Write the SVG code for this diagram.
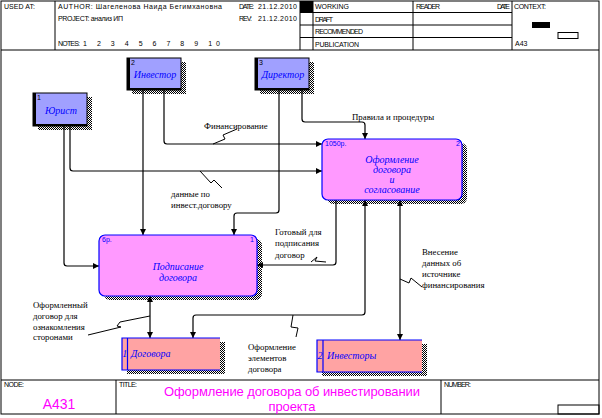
<svg xmlns="http://www.w3.org/2000/svg" width="602" height="418" viewBox="0 0 602 418">
<defs>
<style>
.fr{fill:none;stroke:#000;stroke-width:1}
.hd{font-family:"Liberation Sans",Arial,sans-serif;font-size:7px;fill:#000}
.lb{font-family:"Liberation Serif","Times New Roman",serif;font-size:8.8px;fill:#000}
.nm{font-family:"Liberation Sans",Arial,sans-serif;font-size:7px}
.nd{font-family:"Liberation Serif","Times New Roman",serif;font-style:italic;font-size:10px;fill:#0000ff}
.ent{fill:#a0a0ff;stroke:#000;stroke-width:1}
.act{fill:#ff99ff;stroke:#0000ff;stroke-width:1.2}
.st{fill:#ffa3a3}
.stl{fill:none;stroke:#0000ff;stroke-width:1.2}
.sh{fill:url(#dots)}
.cn{fill:none;stroke:#000;stroke-width:1.2}
.sq{fill:none;stroke:#000;stroke-width:1}
.ft{font-family:"Liberation Sans",Arial,sans-serif;fill:#ff00ff}
</style>
<pattern id="dots" width="2" height="2" patternUnits="userSpaceOnUse"><rect width="1" height="1" fill="#000"/><rect x="1" y="1" width="1" height="1" fill="#000"/></pattern>
<marker id="ah" viewBox="0 0 6 6" refX="6" refY="3" markerWidth="6" markerHeight="6" markerUnits="userSpaceOnUse" orient="auto-start-reverse"><path d="M0,0 L6,3 L0,6 z" fill="#000"/></marker>
</defs>
<rect width="602" height="418" fill="#fff"/>

<g id="frame">
<rect class="fr" x="1" y="1" width="598" height="413"/>
<line class="fr" x1="1" y1="50" x2="599" y2="50"/>
<line class="fr" x1="1" y1="380" x2="599" y2="380"/>
<line class="fr" x1="55" y1="1" x2="55" y2="50"/>
<line class="fr" x1="300" y1="1" x2="300" y2="50"/>
<line class="fr" x1="313" y1="1" x2="313" y2="50"/>
<line class="fr" x1="413" y1="1" x2="413" y2="50"/>
<line class="fr" x1="512" y1="1" x2="512" y2="50"/>
<line class="fr" x1="300" y1="12.5" x2="512" y2="12.5"/>
<line class="fr" x1="300" y1="25" x2="512" y2="25"/>
<line class="fr" x1="300" y1="37.5" x2="512" y2="37.5"/>
<rect x="300" y="1" width="13" height="11.5" fill="#000"/>
<rect x="532" y="22" width="18" height="6" fill="#000"/>
<rect class="fr" x="558" y="32.5" width="20" height="6"/>
<line class="fr" x1="116" y1="380" x2="116" y2="414"/>
<line class="fr" x1="441" y1="380" x2="441" y2="414"/>
<rect class="fr" x="558" y="405" width="41" height="9"/>
<text class="hd" x="4" y="9" textLength="31" lengthAdjust="spacing">USED AT:</text>
<text class="hd" x="58" y="9" textLength="164" lengthAdjust="spacing">AUTHOR: Шагеленова Наида Бегимхановна</text>
<text class="hd" x="239" y="9" textLength="15" lengthAdjust="spacing">DATE:</text>
<text class="hd" x="258" y="9" textLength="39" lengthAdjust="spacing">21.12.2010</text>
<text class="hd" x="58" y="21" textLength="65" lengthAdjust="spacing">PROJECT: анализ ИП</text>
<text class="hd" x="239" y="21" textLength="13" lengthAdjust="spacing">REV:</text>
<text class="hd" x="258" y="21" textLength="39" lengthAdjust="spacing">21.12.2010</text>
<text class="hd" x="58" y="46" textLength="22" lengthAdjust="spacing">NOTES:</text>
<text class="hd" x="83" y="46" textLength="137" lengthAdjust="spacing">1  2  3  4  5  6  7  8  9  10</text>
<text class="hd" x="315" y="9" textLength="34" lengthAdjust="spacing">WORKING</text>
<text class="hd" x="315" y="21.5" textLength="18" lengthAdjust="spacing">DRAFT</text>
<text class="hd" x="315" y="34" textLength="48" lengthAdjust="spacing">RECOMMENDED</text>
<text class="hd" x="315" y="46.5" textLength="44" lengthAdjust="spacing">PUBLICATION</text>
<text class="hd" x="416" y="9" textLength="24" lengthAdjust="spacing">READER</text>
<text class="hd" x="497" y="9" textLength="13" lengthAdjust="spacing">DATE</text>
<text class="hd" x="514" y="9" textLength="32" lengthAdjust="spacing">CONTEXT:</text>
<text class="hd" x="515" y="46">A43</text>
<text class="hd" x="4" y="387" textLength="20" lengthAdjust="spacing">NODE:</text>
<text class="hd" x="119" y="387" textLength="18" lengthAdjust="spacing">TITLE:</text>
<text class="hd" x="444" y="387" textLength="27" lengthAdjust="spacing">NUMBER:</text>
<text class="ft" x="59" y="409" font-size="14" text-anchor="middle">A431</text>
<text class="ft" x="292" y="396" font-size="13" text-anchor="middle" textLength="256" lengthAdjust="spacing">Оформление договора об инвестировании</text>
<text class="ft" x="292" y="411" font-size="13" text-anchor="middle" textLength="47" lengthAdjust="spacing">проекта</text>
</g>

<g id="connectors">
<path class="cn" d="M64,126 V263 Q64,266 67,266 H99" marker-end="url(#ah)"/>
<path class="cn" d="M70,126 V168 Q70,171 73,171 H322" marker-end="url(#ah)"/>
<path class="cn" d="M143,90 V235" marker-end="url(#ah)"/>
<path class="cn" d="M164,90 V141 Q164,144 167,144 H322" marker-end="url(#ah)"/>
<path class="cn" d="M302,90 V119 Q302,122 305,122 H362 Q365,122 365,125 V139" marker-end="url(#ah)"/>
<path class="cn" d="M279,90 V210 Q279,213 276,213 H237 Q234,213 234,216 V235" marker-end="url(#ah)"/>
<path class="cn" d="M336,200 V262 Q336,265 333,265 H257" marker-end="url(#ah)"/>
<path class="cn" d="M150,296 V338" marker-start="url(#ah)" marker-end="url(#ah)"/>
<path class="cn" d="M193,338 V318 Q193,315 196,315 H362 Q365,315 365,312 V200" marker-start="url(#ah)" marker-end="url(#ah)"/>
<path class="cn" d="M400,200 V340" marker-start="url(#ah)" marker-end="url(#ah)"/>
<polyline class="sq" points="213,144 225,139 223,135 237,129"/>
<polyline class="sq" points="200,171 211,183 214,180 222,188"/>
<polyline class="sq" points="311,262 317,257 315,261 326,262"/>
<polyline class="sq" points="293,315 291,327 298,328 296,337"/>
<polyline class="sq" points="400,279 409,283 411,278 422,287"/>
<polyline class="sq" points="150,316 120,322 117,326 121,327 88,335"/>
<text class="lb" x="204" y="129">Финансирование</text>
<text class="lb" x="352" y="120">Правила и процедуры</text>
<text class="lb" x="171" y="197">данные по</text>
<text class="lb" x="171" y="208">инвест.договору</text>
<text class="lb" x="275" y="235">Готовый для</text>
<text class="lb" x="275" y="246">подписания</text>
<text class="lb" x="275" y="258">договор</text>
<text class="lb" x="422" y="255">Внесение</text>
<text class="lb" x="422" y="266">данных об</text>
<text class="lb" x="422" y="277">источнике</text>
<text class="lb" x="422" y="288">финансирования</text>
<text class="lb" x="33" y="308">Оформленный</text>
<text class="lb" x="33" y="319">договор для</text>
<text class="lb" x="33" y="330">ознакомления</text>
<text class="lb" x="33" y="340">сторонами</text>
<text class="lb" x="248" y="350">Оформление</text>
<text class="lb" x="248" y="361">элементов</text>
<text class="lb" x="248" y="372">договора</text>
</g>

<g id="ent1">
<rect class="sh" x="38" y="97" width="54" height="33"/>
<rect class="ent" x="33" y="93" width="54" height="33"/>
<rect x="33" y="93" width="3" height="33" fill="#000"/>
<rect x="33" y="124" width="54" height="2" fill="#000"/>
<text class="nm" x="37" y="100">1</text>
<text class="nd" x="61" y="113.5" text-anchor="middle" font-size="10.5">Юрист</text>
</g>
<g id="ent2">
<rect class="sh" x="132" y="62" width="54" height="32"/>
<rect class="ent" x="127" y="58" width="54" height="32"/>
<rect x="127" y="58" width="3" height="32" fill="#000"/>
<rect x="127" y="88" width="54" height="2" fill="#000"/>
<text class="nm" x="131" y="65">2</text>
<text class="nd" x="155" y="78" text-anchor="middle" font-size="10.5">Инвестор</text>
</g>
<g id="ent3">
<rect class="sh" x="260" y="62" width="54" height="32"/>
<rect class="ent" x="255" y="58" width="54" height="32"/>
<rect x="255" y="58" width="3" height="32" fill="#000"/>
<rect x="255" y="88" width="54" height="2" fill="#000"/>
<text class="nm" x="259" y="65">3</text>
<text class="nd" x="283" y="78" text-anchor="middle" font-size="10.5">Директор</text>
</g>

<g id="act2">
<rect class="sh" x="327" y="143" width="140" height="61" rx="6"/>
<rect class="act" x="322" y="139" width="140" height="61" rx="6"/>
<text class="nm" x="325" y="146" fill="#0000ff">1050р.</text>
<text class="nm" x="458" y="146" fill="#0000ff" text-anchor="middle">2</text>
<text class="nd" x="392" y="163" text-anchor="middle">Оформление</text>
<text class="nd" x="392" y="173" text-anchor="middle">договора</text>
<text class="nd" x="392" y="183" text-anchor="middle">и</text>
<text class="nd" x="392" y="193" text-anchor="middle">согласование</text>
</g>
<g id="act1">
<rect class="sh" x="104" y="239" width="158" height="61" rx="6"/>
<rect class="act" x="99" y="235" width="158" height="61" rx="6"/>
<text class="nm" x="102" y="242" fill="#0000ff">6р.</text>
<text class="nm" x="252" y="242" fill="#0000ff" text-anchor="middle">1</text>
<text class="nd" x="178" y="270" text-anchor="middle">Подписание</text>
<text class="nd" x="178" y="281" text-anchor="middle">договора</text>
</g>

<g id="store1">
<rect class="sh" x="127" y="342" width="98" height="32"/>
<rect class="st" x="122" y="338" width="98" height="32"/>
<path class="stl" d="M220,338 H122 V370 H220 M127.5,338 V370"/>
<text class="nd" x="124.7" y="357" text-anchor="middle" font-size="9">1</text>
<text class="nd" x="131" y="357" font-size="9.5">Договора</text>
</g>
<g id="store2">
<rect class="sh" x="322" y="344" width="105" height="32"/>
<rect class="st" x="317" y="340" width="105" height="32"/>
<path class="stl" d="M422,340 H317 V372 H422 M323,340 V372"/>
<text class="nd" x="320" y="359" text-anchor="middle" font-size="9">2</text>
<text class="nd" x="327" y="359" font-size="9.5">Инвесторы</text>
</g>
</svg>
